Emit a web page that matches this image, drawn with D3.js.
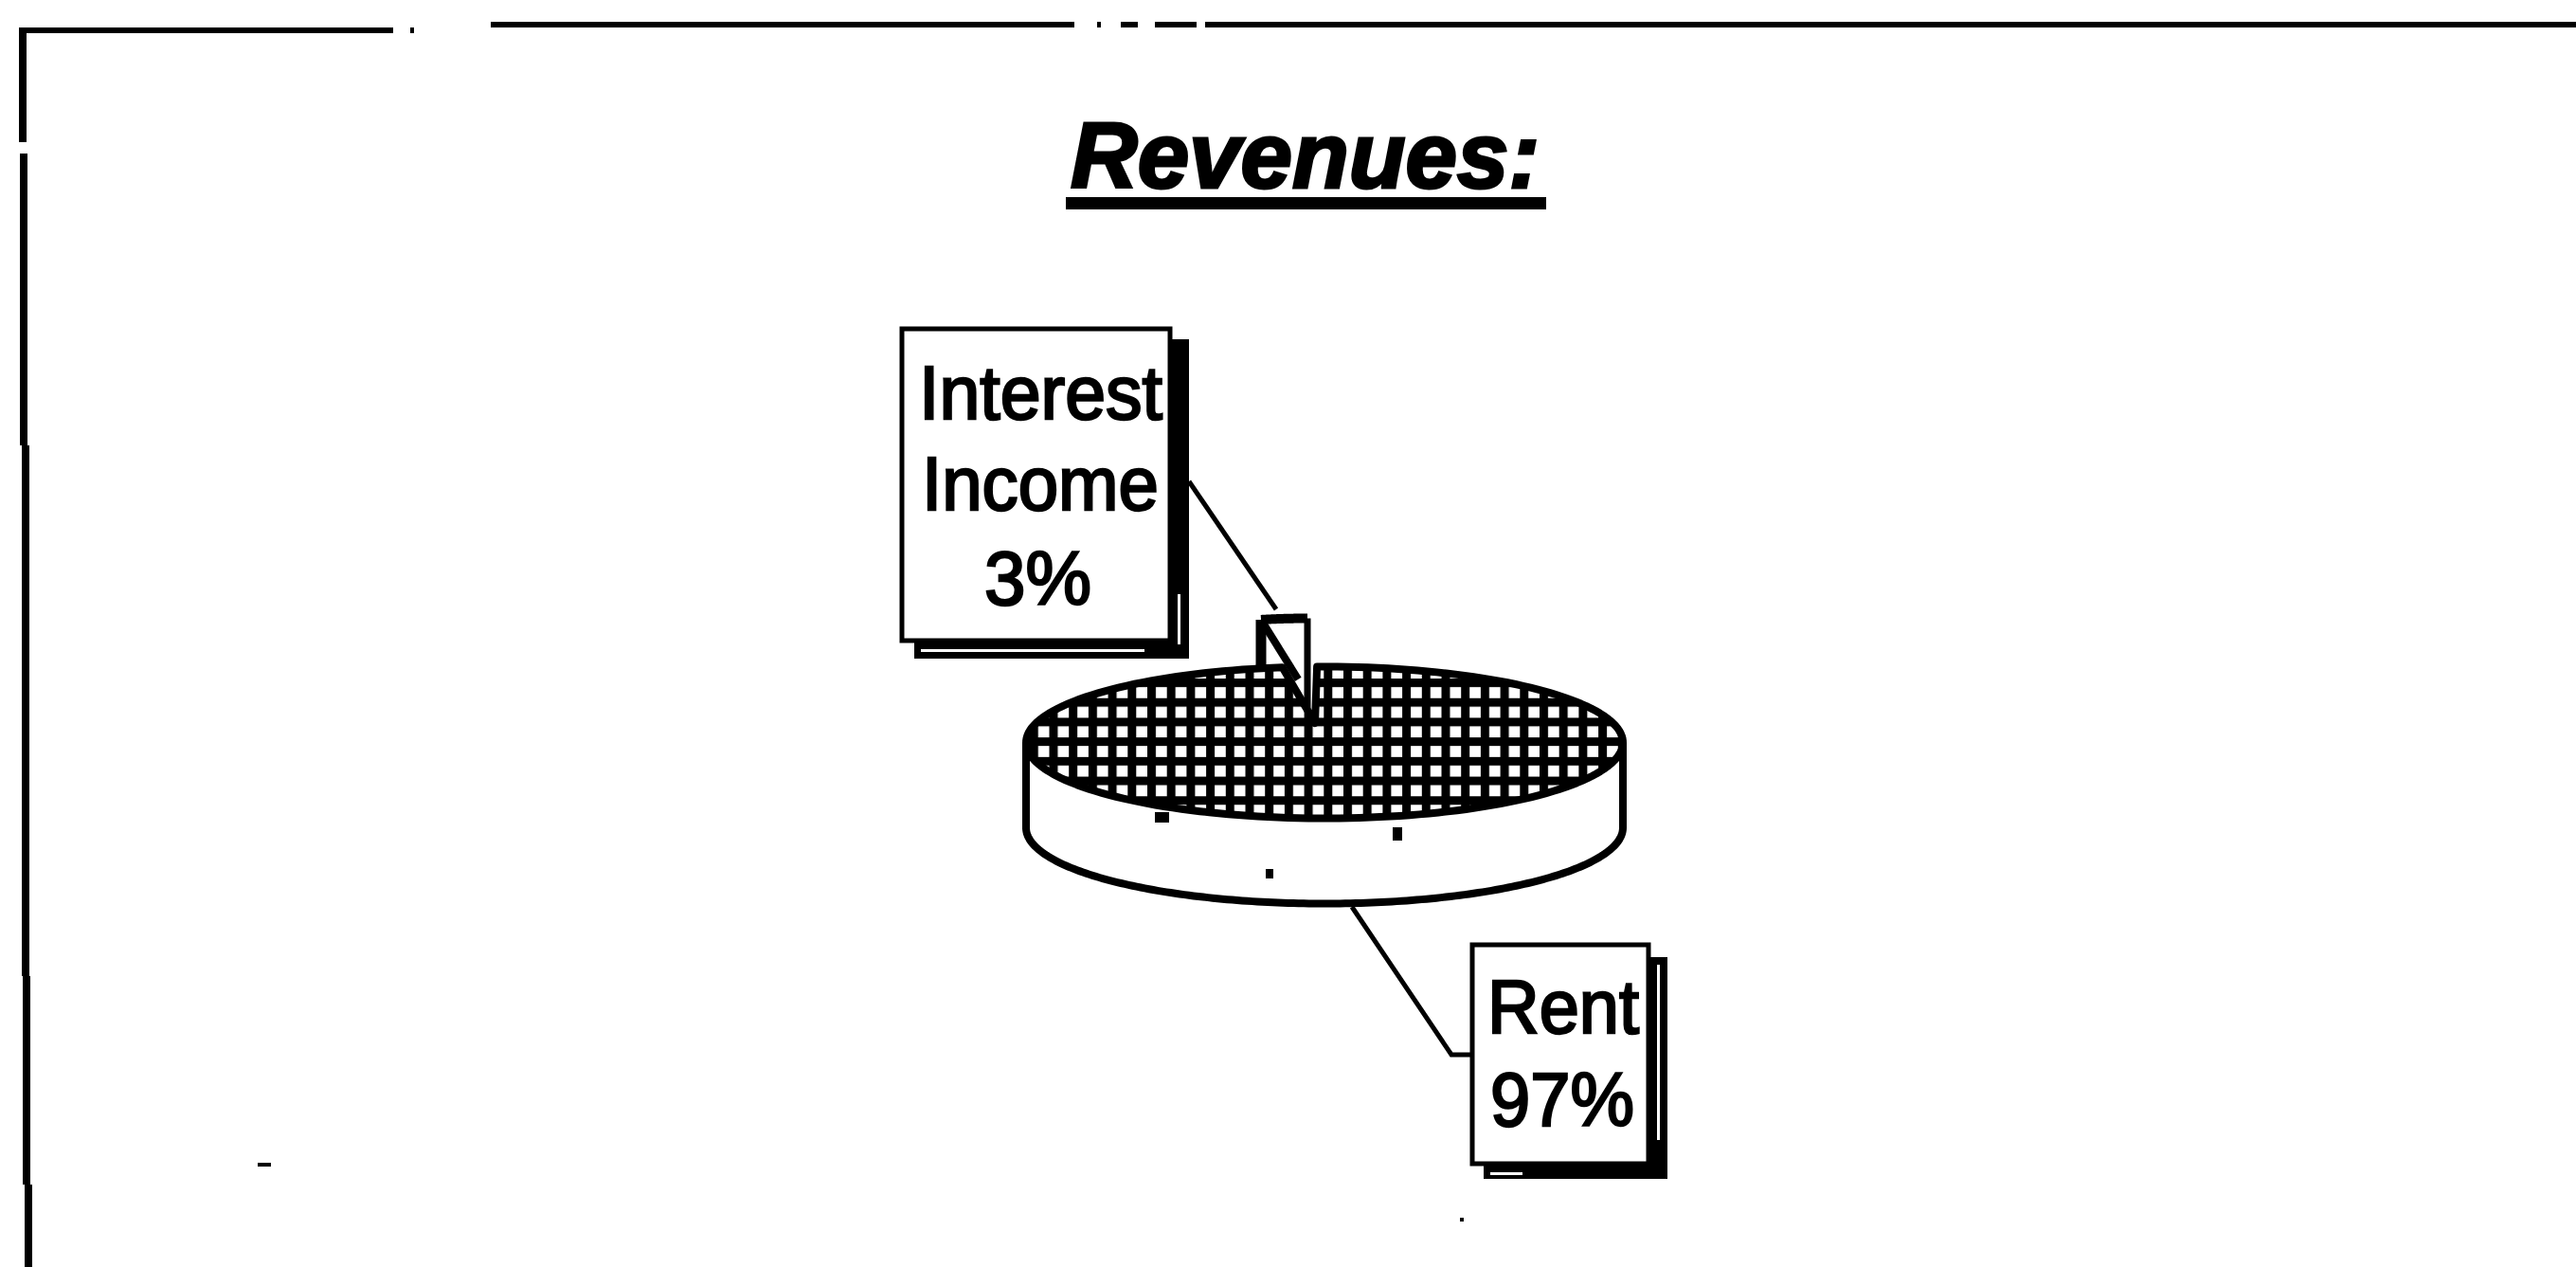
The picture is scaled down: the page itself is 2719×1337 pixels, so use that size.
<!DOCTYPE html>
<html>
<head>
<meta charset="utf-8">
<title>Revenues</title>
<script src="https://d3js.org/d3.v7.min.js"></script>
<style>
  html, body { margin: 0; background: #fff; }
  svg { display: block; }
  text { font-family: "Liberation Sans", Arial, sans-serif; fill: #000; }
</style>
</head>
<body>
<svg id="chart" width="2719" height="1337"></svg>
<script>
// values
var categories = ["Interest Income", "Rent"];
var values = [3, 97];
var titleText = "Revenues:";

var svg = d3.select("#chart");
var black = "#000";

// pie geometry
var cx = 1398, cy = 783.5, rx = 315, ry = 80, depth = 90;
var toRad = Math.PI / 180;

var pie = d3.pie().sort(null).startAngle(-10.8 * toRad).endAngle((360 - 10.8) * toRad);
var arcs = pie(values);
var interest = arcs[0];

var xUnit = d3.scaleLinear().domain([-1, 1]).range([cx - rx, cx + rx]);
var yUnit = d3.scaleLinear().domain([-1, 1]).range([cy + ry, cy - ry]);

function rim(a, dx, dy) {
  return [xUnit(Math.sin(a)) + (dx || 0), yUnit(Math.cos(a)) + (dy || 0)];
}
function rimPoints(a0, a1, dx, dy) {
  var n = 180;
  return d3.range(n + 1).map(function(i) {
    return rim(a0 + (a1 - a0) * i / n, dx, dy);
  });
}
var line = d3.line();

// hatch for the top of the pie
var defs = svg.append("defs");
var hatch = defs.append("pattern")
  .attr("id", "hatch")
  .attr("patternUnits", "userSpaceOnUse")
  .attr("x", 1107.5).attr("y", 736.75)
  .attr("width", 20.7).attr("height", 20.7);
hatch.append("rect").attr("width", 20.7).attr("height", 20.7).attr("fill", "#fff");
hatch.append("rect").attr("width", 9).attr("height", 20.7).attr("fill", black);
hatch.append("rect").attr("width", 20.7).attr("height", 9).attr("fill", black);

// frame, it is broken up in the scan
var frame = [
  [[22, 32], [415, 32], 6], [[433, 32], [437, 32], 6],
  [[518, 26], [1134, 26], 6], [[1158, 26], [1162, 26], 6],
  [[1183, 26], [1201, 26], 6], [[1219, 26], [1263, 26], 6],
  [[1272, 26], [2719, 26], 6],
  [[24, 29], [24, 150], 8], [[25, 162], [25, 470], 8],
  [[27, 470], [27, 1030], 8], [[28, 1030], [28, 1250], 8], [[30, 1250], [30, 1337], 8]
];
svg.append("g").selectAll("path").data(frame).enter().append("path")
  .attr("d", function(d) { return line([d[0], d[1]]); })
  .attr("stroke", black)
  .attr("stroke-width", function(d) { return d[2]; });

// title
svg.append("text")
  .attr("x", 1130).attr("y", 198)
  .attr("font-size", 98).attr("font-weight", "bold").attr("font-style", "italic")
  .attr("stroke", black).attr("stroke-width", 3)
  .attr("textLength", 495).attr("lengthAdjust", "spacingAndGlyphs")
  .text(titleText);
svg.append("rect").attr("x", 1125).attr("y", 208).attr("width", 507).attr("height", 13).attr("fill", black);

// side wall of the pie
var wall = rimPoints(90 * toRad, 270 * toRad, 0, depth);
wall.unshift(rim(90 * toRad));
wall.push(rim(270 * toRad));
svg.append("path")
  .attr("d", line(wall))
  .attr("fill", "#fff").attr("stroke", black).attr("stroke-width", 8);

// exploded slice, sits behind the hatched top
var sliceDx = -18, sliceDy = -51, sliceSqueeze = 0.83;
var sliceApex = [cx + sliceDx, cy + sliceDy];
var sliceFace = rimPoints(interest.startAngle, interest.endAngle, sliceDx, sliceDy).map(function(p) {
  return [sliceApex[0] + (p[0] - sliceApex[0]) * sliceSqueeze, p[1]];
});
var sliceStart = sliceFace[0];
// the inner edge fades out before it gets to the apex
var edgeEnd = d3.interpolateArray(sliceStart, sliceApex)(0.8);
svg.append("path").attr("d", line([sliceStart, [sliceStart[0], sliceStart[1] + depth]]))
  .attr("fill", "none").attr("stroke", black).attr("stroke-width", 11);
svg.append("path").attr("d", line(sliceFace))
  .attr("fill", "none").attr("stroke", black).attr("stroke-width", 10);
svg.append("path").attr("d", line([sliceStart, edgeEnd]))
  .attr("fill", "none").attr("stroke", black).attr("stroke-width", 8);
svg.append("path").attr("d", line([sliceFace[sliceFace.length - 1], [sliceApex[0], sliceApex[1] + depth]]))
  .attr("fill", "none").attr("stroke", black).attr("stroke-width", 7);

// the hatched top with the gap cut out
var gapScale = 0.617, gapShift = -1.44 * toRad;
var gapA0 = interest.endAngle * gapScale + gapShift;
var gapA1 = interest.startAngle * gapScale + gapShift + 2 * Math.PI;
var topFace = [[cx - 10, 763]].concat(rimPoints(gapA0, gapA1));
svg.append("path")
  .attr("d", line(topFace) + "Z")
  .attr("fill", "url(#hatch)").attr("stroke", black).attr("stroke-width", 8)
  .attr("stroke-linejoin", "round");

// leader lines
var leaders = [
  [[1255, 508], [1347, 643]],
  [[1427, 957], [1532, 1113], [1552, 1113]]
];

// label boxes with their drop shadow
var boxes = [
  { x: 952, y: 347, w: 283, h: 329, sx: 965, sy: 358, sw: 290, sh: 337 },
  { x: 1554, y: 997, w: 186, h: 231, sx: 1566, sy: 1010, sw: 194, sh: 234 }
];
svg.append("g").selectAll("rect").data(boxes).enter().append("rect")
  .attr("x", function(d) { return d.sx; }).attr("y", function(d) { return d.sy; })
  .attr("width", function(d) { return d.sw; }).attr("height", function(d) { return d.sh; })
  .attr("fill", black);
svg.append("g").selectAll("rect").data(boxes).enter().append("rect")
  .attr("x", function(d) { return d.x; }).attr("y", function(d) { return d.y; })
  .attr("width", function(d) { return d.w; }).attr("height", function(d) { return d.h; })
  .attr("fill", "#fff").attr("stroke", black).attr("stroke-width", 5);

// thin white slits left in the shadows
var slits = [[972, 685, 236, 3], [1243, 627, 3, 53], [1749, 1018, 3, 185], [1573, 1237, 34, 3]];
svg.append("g").selectAll("rect").data(slits).enter().append("rect")
  .attr("x", function(d) { return d[0]; }).attr("y", function(d) { return d[1]; })
  .attr("width", function(d) { return d[2]; }).attr("height", function(d) { return d[3]; })
  .attr("fill", "#fff");

svg.append("g").selectAll("path").data(leaders).enter().append("path")
  .attr("d", function(d) { return line(d); })
  .attr("fill", "none").attr("stroke", black).attr("stroke-width", 5);

// labels come from the data arrays
var labelLines = [
  { t: categories[0].split(" ")[0], x: 970, y: 442, w: 257 },
  { t: categories[0].split(" ")[1], x: 973, y: 538, w: 250 },
  { t: values[0] + "%", x: 1039, y: 638, w: 113 },
  { t: categories[1], x: 1570, y: 1090, w: 160 },
  { t: values[1] + "%", x: 1573, y: 1188, w: 152 }
];
svg.append("g").selectAll("text").data(labelLines).enter().append("text")
  .attr("x", function(d) { return d.x; })
  .attr("y", function(d) { return d.y; })
  .attr("font-size", 79)
  .attr("stroke", black).attr("stroke-width", 2.5)
  .attr("textLength", function(d) { return d.w; })
  .attr("lengthAdjust", "spacingAndGlyphs")
  .text(function(d) { return d.t; });

// specks left from the scan
var specks = [[1219, 857, 15, 11], [1470, 873, 10, 14], [1336, 917, 8, 10], [272, 1227, 14, 4], [1541, 1285, 4, 4]];
svg.append("g").selectAll("rect").data(specks).enter().append("rect")
  .attr("x", function(d) { return d[0]; }).attr("y", function(d) { return d[1]; })
  .attr("width", function(d) { return d[2]; }).attr("height", function(d) { return d[3]; })
  .attr("fill", black);
</script>
</body>
</html>
